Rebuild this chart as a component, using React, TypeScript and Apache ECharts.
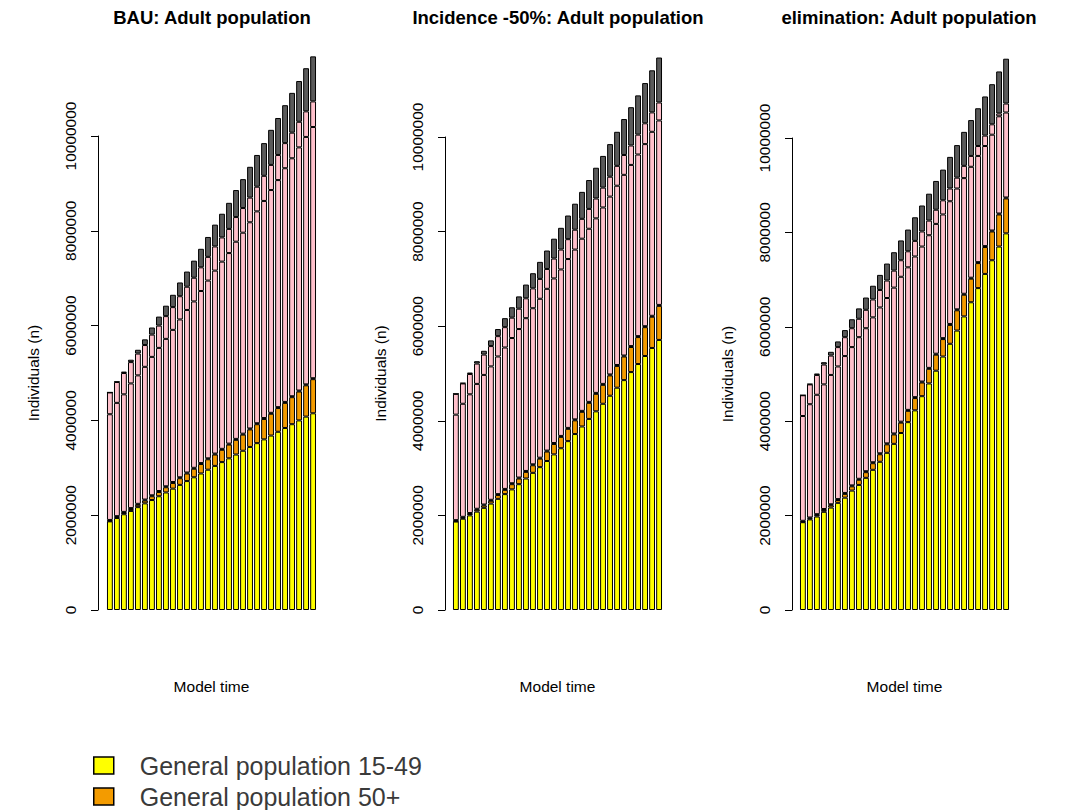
import React, { useEffect, useRef } from "react";
import * as echarts from "echarts";

// Model time steps (one bar per step)
const timeSteps = Array.from({ length: 30 }, (_, i) => String(i + 1));

// Values in millions of individuals, stacked bottom to top.
// Scenario: BAU
const bauGp1549 = [1.87, 1.94, 2.02, 2.09, 2.17, 2.25, 2.32, 2.40, 2.48, 2.56, 2.64, 2.72, 2.80, 2.88, 2.96, 3.04, 3.12, 3.20, 3.28, 3.36, 3.44, 3.52, 3.60, 3.68, 3.76, 3.84, 3.92, 4.00, 4.08, 4.15];
const bauGp50 = [0.01, 0.02, 0.03, 0.04, 0.05, 0.06, 0.08, 0.09, 0.11, 0.12, 0.14, 0.16, 0.18, 0.20, 0.22, 0.24, 0.26, 0.29, 0.31, 0.34, 0.37, 0.40, 0.43, 0.46, 0.50, 0.53, 0.57, 0.61, 0.66, 0.72];
const bauGroupA = [0.02, 0.02, 0.02, 0.02, 0.02, 0.02, 0.02, 0.02, 0.02, 0.02, 0.02, 0.02, 0.02, 0.02, 0.02, 0.02, 0.02, 0.02, 0.02, 0.02, 0.02, 0.02, 0.02, 0.02, 0.02, 0.02, 0.02, 0.02, 0.02, 0.02];
const bauGroupB = [2.23, 2.39, 2.48, 2.63, 2.71, 2.80, 2.92, 3.02, 3.11, 3.21, 3.33, 3.43, 3.51, 3.63, 3.75, 3.86, 3.95, 4.02, 4.16, 4.24, 4.35, 4.47, 4.58, 4.70, 4.79, 4.93, 5.02, 5.13, 5.22, 5.30];
const bauGroupC = [0.46, 0.44, 0.45, 0.45, 0.46, 0.46, 0.47, 0.47, 0.48, 0.48, 0.49, 0.49, 0.50, 0.50, 0.50, 0.51, 0.51, 0.51, 0.52, 0.52, 0.52, 0.52, 0.53, 0.53, 0.53, 0.53, 0.54, 0.54, 0.54, 0.54];
const bauGroupD = [0.00, 0.01, 0.03, 0.05, 0.08, 0.12, 0.15, 0.19, 0.22, 0.26, 0.29, 0.32, 0.36, 0.39, 0.42, 0.46, 0.50, 0.55, 0.57, 0.61, 0.65, 0.67, 0.69, 0.74, 0.78, 0.80, 0.84, 0.86, 0.91, 0.95];

// Scenario: Incidence -50%
const halfGp1549 = [1.87, 1.93, 2.00, 2.08, 2.16, 2.25, 2.35, 2.45, 2.55, 2.66, 2.78, 2.90, 3.02, 3.15, 3.29, 3.42, 3.57, 3.72, 3.88, 4.04, 4.20, 4.36, 4.53, 4.70, 4.86, 5.03, 5.20, 5.37, 5.54, 5.71];
const halfGp50 = [0.01, 0.02, 0.03, 0.04, 0.05, 0.06, 0.08, 0.09, 0.11, 0.12, 0.14, 0.16, 0.18, 0.20, 0.22, 0.24, 0.26, 0.29, 0.31, 0.34, 0.37, 0.40, 0.43, 0.46, 0.50, 0.53, 0.57, 0.61, 0.66, 0.72];
const halfGroupA = [0.02, 0.02, 0.02, 0.02, 0.02, 0.02, 0.02, 0.02, 0.02, 0.02, 0.02, 0.02, 0.02, 0.02, 0.02, 0.02, 0.02, 0.02, 0.02, 0.02, 0.02, 0.02, 0.02, 0.02, 0.02, 0.02, 0.02, 0.02, 0.02, 0.02];
const halfGroupB = [2.23, 2.39, 2.51, 2.64, 2.74, 2.82, 2.91, 2.99, 3.07, 3.14, 3.23, 3.30, 3.36, 3.42, 3.48, 3.52, 3.57, 3.59, 3.64, 3.66, 3.69, 3.73, 3.76, 3.79, 3.82, 3.83, 3.84, 3.85, 3.89, 3.90];
const halfGroupC = [0.44, 0.43, 0.43, 0.43, 0.43, 0.43, 0.43, 0.43, 0.43, 0.43, 0.42, 0.42, 0.42, 0.42, 0.42, 0.42, 0.42, 0.42, 0.42, 0.42, 0.42, 0.42, 0.42, 0.42, 0.42, 0.41, 0.42, 0.44, 0.41, 0.38];
const halfGroupD = [0.00, 0.01, 0.03, 0.05, 0.08, 0.12, 0.15, 0.19, 0.22, 0.26, 0.29, 0.32, 0.36, 0.39, 0.42, 0.46, 0.50, 0.55, 0.57, 0.61, 0.65, 0.67, 0.69, 0.72, 0.76, 0.81, 0.83, 0.85, 0.89, 0.95];

// Scenario: elimination
const elimGp1549 = [1.86, 1.92, 1.98, 2.08, 2.17, 2.27, 2.38, 2.53, 2.65, 2.80, 2.97, 3.14, 3.33, 3.52, 3.75, 3.98, 4.23, 4.53, 4.80, 5.07, 5.37, 5.64, 5.92, 6.22, 6.52, 6.82, 7.12, 7.41, 7.70, 7.98];
const elimGp50 = [0.01, 0.02, 0.03, 0.04, 0.05, 0.06, 0.08, 0.09, 0.11, 0.12, 0.14, 0.16, 0.18, 0.20, 0.22, 0.24, 0.26, 0.29, 0.31, 0.34, 0.37, 0.40, 0.43, 0.46, 0.50, 0.53, 0.57, 0.61, 0.68, 0.74];
const elimGroupA = [0.02, 0.02, 0.02, 0.02, 0.02, 0.02, 0.02, 0.02, 0.02, 0.02, 0.02, 0.02, 0.02, 0.02, 0.02, 0.02, 0.02, 0.02, 0.02, 0.02, 0.02, 0.02, 0.02, 0.02, 0.02, 0.02, 0.02, 0.02, 0.02, 0.02];
const elimGroupB = [2.22, 2.40, 2.53, 2.64, 2.74, 2.81, 2.90, 2.93, 3.00, 3.03, 3.07, 3.09, 3.08, 3.09, 3.07, 3.02, 2.98, 2.86, 2.81, 2.75, 2.62, 2.60, 2.56, 2.45, 2.35, 2.25, 2.12, 2.03, 2.06, 1.80];
const elimGroupC = [0.44, 0.42, 0.42, 0.42, 0.41, 0.41, 0.40, 0.40, 0.39, 0.39, 0.38, 0.37, 0.37, 0.36, 0.35, 0.34, 0.33, 0.32, 0.31, 0.30, 0.30, 0.27, 0.23, 0.26, 0.23, 0.21, 0.22, 0.22, 0.06, 0.19];
const elimGroupD = [0.00, 0.01, 0.03, 0.05, 0.08, 0.12, 0.15, 0.19, 0.22, 0.26, 0.29, 0.32, 0.36, 0.39, 0.42, 0.46, 0.50, 0.55, 0.57, 0.61, 0.65, 0.67, 0.69, 0.72, 0.76, 0.80, 0.83, 0.85, 0.89, 0.95];

const panelTitles = ["BAU: Adult population", "Incidence -50%: Adult population", "elimination: Adult population"];
const layerNames = ["General population 15-49", "General population 50+", "Group A", "Group B", "Group C", "Group D"];
const layerColors = ["#ffff00", "#f39b00", "#5a1a80", "#ffc0cb", "#ffc0cb", "#5a5a5a"];
const panelData = [
  [bauGp1549, bauGp50, bauGroupA, bauGroupB, bauGroupC, bauGroupD],
  [halfGp1549, halfGp50, halfGroupA, halfGroupB, halfGroupC, halfGroupD],
  [elimGp1549, elimGp50, elimGroupA, elimGroupB, elimGroupC, elimGroupD],
];
const yTicks = [0, 2000000, 4000000, 6000000, 8000000, 10000000];
// Legend entries shown under the panels
const legendNames = [layerNames[0], layerNames[1]];

const FONT = "'Liberation Sans', Arial, Helvetica, sans-serif";
const layout = [
  { left: 106.4, axisX: 98, top: 136, titleX: 207 },
  { left: 452.4, axisX: 445, top: 137, titleX: 553 },
  { left: 799.4, axisX: 792, top: 138, titleX: 904 },
];
const PLOT_W = 210.2;
const ZERO_Y = 610;
const LEGEND_TOP = 753;
const LEGEND_STEP = 31;

export default function App() {
  const ref = useRef<HTMLDivElement>(null);

  useEffect(() => {
    if (!ref.current) return;
    const chart = echarts.init(ref.current, null, { renderer: "svg" });

    const series: any[] = [];
    panelData.forEach((layers, p) => {
      layers.forEach((vals, k) => {
        series.push({
          type: "bar",
          name: layerNames[k],
          stack: "panel" + p,
          xAxisIndex: p,
          yAxisIndex: p,
          barCategoryGap: "16.67%",
          clip: false,
          data: vals.map((v) => Math.round(v * 1e6)),
          itemStyle: { color: layerColors[k], borderColor: "#000", borderWidth: 1 },
          emphasis: { disabled: true },
        });
      });
    });

    chart.setOption({
      animation: false,
      backgroundColor: "#ffffff",
      title: layout.map((l, p) => ({
        text: panelTitles[p],
        left: l.titleX,
        top: 3,
        textAlign: "center",
        textStyle: { fontFamily: FONT, fontSize: 18.5, fontWeight: "bold", color: "#000" },
      })),
      grid: layout.map((l) => ({
        left: l.left,
        top: l.top,
        width: PLOT_W,
        height: ZERO_Y - l.top,
        containLabel: false,
      })),
      xAxis: layout.map((_, p) => ({
        type: "category",
        gridIndex: p,
        data: timeSteps,
        axisLine: { show: false },
        axisTick: { show: false },
        axisLabel: { show: false },
        splitLine: { show: false },
        name: "Model time",
        nameLocation: "middle",
        nameGap: 68,
        nameTextStyle: { fontFamily: FONT, fontSize: 15.5, color: "#000" },
      })),
      yAxis: layout.map((l, p) => ({
        type: "value",
        gridIndex: p,
        min: yTicks[0],
        max: yTicks[yTicks.length - 1],
        interval: yTicks[1] - yTicks[0],
        offset: l.left - l.axisX,
        axisLine: { show: true, lineStyle: { color: "#000", width: 1 } },
        axisTick: { show: true, length: 7, lineStyle: { color: "#000", width: 1 } },
        axisLabel: {
          rotate: 90,
          margin: 20,
          fontFamily: FONT,
          fontSize: 15.5,
          color: "#000",
          formatter: (v: number) => String(v),
        },
        splitLine: { show: false },
        name: "Individuals (n)",
        nameLocation: "middle",
        nameGap: 57,
        nameTextStyle: { fontFamily: FONT, fontSize: 15.5, color: "#000" },
      })),
      // one legend block per entry so the two rows stack vertically
      legend: legendNames.map((name, i) => ({
        orient: "vertical",
        left: 93,
        top: LEGEND_TOP + i * LEGEND_STEP,
        padding: 0,
        itemWidth: 20,
        itemHeight: 17,
        icon: "rect",
        selectedMode: false,
        data: [name],
        itemStyle: { borderColor: "#000", borderWidth: 1.5 },
        textStyle: {
          fontFamily: FONT,
          fontSize: 25,
          color: "#3a3a3a",
          padding: [0, 0, 0, 21],
        },
      })),
      series,
    });

    return () => chart.dispose();
  }, []);

  return (
    <div
      ref={ref}
      style={{ position: "absolute", left: 0, top: 0, width: 1077, height: 810, background: "#fff" }}
    />
  );
}
